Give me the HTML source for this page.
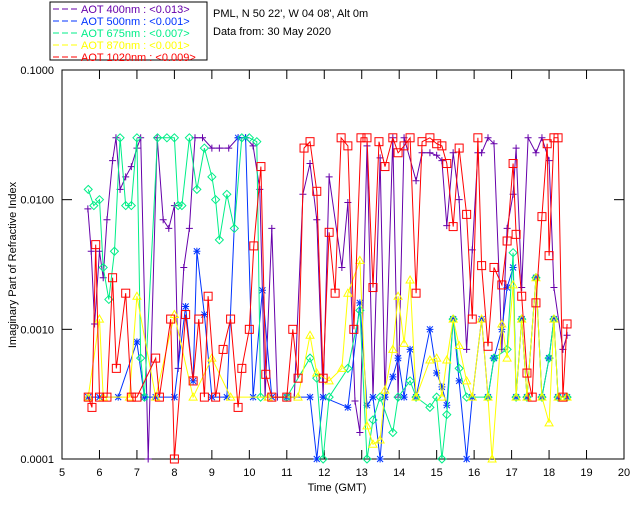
<!DOCTYPE html>
<html><head><meta charset="utf-8"><style>
body{margin:0;background:#fff;width:640px;height:512px;overflow:hidden}
svg text{font-family:"Liberation Sans",sans-serif;font-size:11px}
</style></head><body>
<svg id="c" width="640" height="512" xmlns="http://www.w3.org/2000/svg">
<rect x="50" y="2" width="157" height="58" fill="none" stroke="#000"/>
<g id="legend"></g>
<text x="213" y="17">PML, N 50 22', W 04 08', Alt 0m</text>
<text x="213" y="35">Data from: 30 May 2020</text>
<g id="axes"></g>
<g id="series"></g>
<text x="337" y="491" text-anchor="middle">Time (GMT)</text>
<text transform="translate(16,265) rotate(-90)" text-anchor="middle">Imaginary Part of Refractive Index</text>
</svg>
<script>
const xTicks=[5,6,7,8,9,10,11,12,13,14,15,16,17,18,19,20];
const yTicks=[0.0001,0.001,0.01,0.1];
const yTickLabels=["0.0001","0.0010","0.0100","0.1000"];
const legendLabels=["AOT  400nm : <0.013>","AOT  500nm : <0.001>","AOT  675nm : <0.007>","AOT  870nm : <0.001>","AOT 1020nm : <0.009>"];
const colors=["#6600aa","#0033ff","#00ee88","#ffff00","#ff0000"];
const markers=["plus","star","diamond","triangle","square"];
const t400=[5.69,5.78,5.87,6.0,6.1,6.2,6.35,6.44,6.55,6.7,6.85,7.0,7.1,7.3,7.54,7.7,7.85,8.0,8.1,8.25,8.4,8.55,8.75,9.0,9.2,9.45,9.7,9.9,10.1,10.28,10.42,10.6,10.75,11.2,11.43,11.62,11.8,11.97,12.13,12.47,12.63,12.82,12.95,13.14,13.3,13.49,13.62,13.83,13.97,14.13,14.45,14.61,14.82,15.0,15.14,15.27,15.44,15.6,15.8,15.95,16.1,16.2,16.37,16.53,16.74,16.88,17.04,17.12,17.27,17.44,17.65,17.81,18.0,18.13,18.37,18.48];
const v400=[0.0085,0.004,0.0011,0.004,0.0025,0.007,0.02,0.03,0.012,0.015,0.018,0.025,0.03,0.0001,0.03,0.007,0.006,0.009,0.0005,0.003,0.006,0.03,0.03,0.025,0.025,0.025,0.03,0.03,0.026,0.012,0.0003,0.006,0.0003,0.0003,0.011,0.019,0.007,0.0003,0.015,0.003,0.0095,0.00028,0.00016,0.026,0.0003,0.021,0.0003,0.03,0.0003,0.03,0.014,0.023,0.023,0.022,0.02,0.0063,0.023,0.01,0.0007,0.0041,0.023,0.023,0.03,0.027,0.0007,0.006,0.011,0.025,0.0021,0.03,0.023,0.03,0.02,0.0021,0.0007,0.0009];
const t500=[5.7,6.0,6.5,7.0,7.2,7.5,8.0,8.3,8.5,8.6,8.8,9.0,9.4,9.7,9.9,10.1,10.35,10.6,11.0,11.62,11.8,11.97,12.63,12.95,13.14,13.3,13.49,13.62,13.83,13.97,14.13,14.29,14.45,14.82,15.0,15.14,15.27,15.44,15.6,15.8,15.95,16.2,16.37,16.53,16.74,16.88,17.04,17.12,17.27,17.41,17.65,17.81,18.0,18.13,18.24,18.48];
const v500=[0.0003,0.0003,0.0003,0.0008,0.0003,0.0003,0.0003,0.0015,0.0004,0.004,0.0013,0.0003,0.0003,0.03,0.03,0.0003,0.002,0.0003,0.0003,0.0003,0.0001,0.0003,0.00025,0.0016,0.00026,0.0003,0.0001,0.0003,0.00043,0.0006,0.0003,0.0007,0.0003,0.001,0.00046,0.00036,0.00026,0.0012,0.0004,0.0001,0.0003,0.0012,0.0003,0.0006,0.001,0.0021,0.003,0.0003,0.0012,0.0003,0.0025,0.0003,0.0006,0.0012,0.0003,0.0003];
const t675=[5.7,5.85,6.0,6.1,6.25,6.4,6.55,6.7,6.85,7.0,7.1,7.2,7.55,7.8,8.0,8.1,8.2,8.4,8.6,8.8,9.0,9.1,9.2,9.4,9.6,9.8,10.0,10.2,10.3,11.0,11.62,11.8,11.97,12.13,12.63,12.95,13.14,13.3,13.49,13.83,13.97,14.29,14.45,14.82,15.0,15.14,15.27,15.44,15.6,15.8,16.37,16.53,16.88,17.04,17.12,17.27,17.41,17.65,17.81,18.0,18.13,18.24,18.48];
const v675=[0.012,0.009,0.01,0.003,0.0017,0.004,0.03,0.009,0.009,0.03,0.0006,0.0003,0.03,0.03,0.03,0.009,0.009,0.03,0.012,0.025,0.015,0.01,0.0049,0.011,0.006,0.03,0.03,0.028,0.0003,0.0003,0.0006,0.00042,0.0001,0.0003,0.0005,0.0014,0.0001,0.0002,0.0003,0.00016,0.0003,0.0004,0.0003,0.00025,0.0003,0.0001,0.00022,0.0012,0.0005,0.0003,0.0003,0.0006,0.0007,0.0039,0.0003,0.0012,0.0003,0.0025,0.0003,0.0006,0.0012,0.0003,0.0003];
const t870=[5.7,6.0,6.1,6.8,7.0,7.5,8.0,8.5,9.0,9.5,10.5,11.3,11.62,11.8,12.13,12.47,12.63,12.95,13.14,13.3,13.49,13.62,13.83,13.97,14.13,14.29,14.45,14.82,15.0,15.14,15.27,15.44,15.6,15.8,15.95,16.2,16.37,16.48,16.74,16.88,17.04,17.12,17.27,17.41,17.65,17.81,18.0,18.13,18.24,18.48];
const v870=[0.0003,0.0012,0.0003,0.0003,0.0018,0.0003,0.0013,0.0003,0.0006,0.0003,0.0003,0.0003,0.0009,0.00046,0.0004,0.0005,0.0019,0.0034,0.00018,0.00013,0.00014,0.00034,0.0007,0.0018,0.00078,0.0024,0.0003,0.00058,0.0006,0.0003,0.00058,0.0012,0.00075,0.0004,0.0003,0.0012,0.0003,0.0001,0.0011,0.0006,0.0022,0.0003,0.0012,0.0003,0.0025,0.0003,0.00019,0.0012,0.0003,0.0003];
const t1020=[5.7,5.8,5.9,6.0,6.2,6.35,6.45,6.7,6.85,7.0,7.5,7.6,7.9,8.0,8.3,8.5,8.65,8.8,8.9,9.1,9.3,9.5,9.7,9.8,10.0,10.12,10.31,10.44,10.6,11.0,11.16,11.3,11.46,11.62,11.8,11.97,12.13,12.29,12.45,12.63,12.79,12.98,13.14,13.3,13.46,13.62,13.83,13.97,14.13,14.29,14.45,14.61,14.82,15.0,15.14,15.27,15.44,15.6,15.8,15.95,16.1,16.2,16.37,16.53,16.74,16.88,17.04,17.12,17.27,17.41,17.55,17.65,17.81,17.95,18.0,18.13,18.24,18.37,18.48];
const v1020=[0.0003,0.00025,0.0045,0.0003,0.0003,0.0025,0.0005,0.0019,0.0003,0.0003,0.0006,0.0003,0.0012,0.0001,0.0013,0.0004,0.0012,0.0003,0.0018,0.0003,0.0007,0.0012,0.00025,0.0005,0.001,0.0044,0.018,0.00045,0.0003,0.0003,0.001,0.00042,0.025,0.028,0.0116,0.00042,0.0056,0.0019,0.03,0.026,0.001,0.03,0.03,0.0021,0.028,0.018,0.03,0.023,0.026,0.03,0.0019,0.028,0.03,0.027,0.026,0.019,0.0062,0.025,0.0077,0.0012,0.03,0.0031,0.00074,0.003,0.0022,0.0048,0.019,0.0054,0.0018,0.00046,0.0003,0.0016,0.0074,0.027,0.0037,0.03,0.03,0.0003,0.0011];
const seriesT=[t400,t500,t675,t870,t1020];
const seriesV=[v400,v500,v675,v870,v1020];
const names=["aot-400nm","aot-500nm","aot-675nm","aot-870nm","aot-1020nm"];
const X0=62,X1=624,Y0=459,Y1=70;
const xs=t=>X0+(t-5)/15*(X1-X0);
const ys=v=>Y0-(Math.log10(v)+4)/3*(Y0-Y1);
const NS="http://www.w3.org/2000/svg";
function mk(tag,attrs,parent){const e=document.createElementNS(NS,tag);for(const k in attrs)e.setAttribute(k,attrs[k]);parent.appendChild(e);return e;}
const ax=document.getElementById('axes');
const frame=mk('rect',{x:X0,y:Y1,width:X1-X0,height:Y0-Y1,fill:'none',stroke:'#000'},ax);


xTicks.forEach(t=>{const x=xs(t);
 mk('line',{x1:x,x2:x,y1:Y0,y2:Y0-9,stroke:'#000'},ax);
 mk('line',{x1:x,x2:x,y1:Y1,y2:Y1+9,stroke:'#000'},ax);
 const tx=mk('text',{x:x,y:Y0+17,'text-anchor':'middle'},ax);tx.textContent=t;
 
 });
yTicks.forEach((v,i)=>{const y=ys(v);
 mk('line',{x1:X0,x2:X0+10,y1:y,y2:y,stroke:'#000'},ax);
 mk('line',{x1:X1,x2:X1-10,y1:y,y2:y,stroke:'#000'},ax);
 const tx=mk('text',{x:X0-8,y:y+4,'text-anchor':'end'},ax);tx.textContent=yTickLabels[i];
 
 });
const lg=document.getElementById('legend');
legendLabels.forEach((l,i)=>{const y=13+i*12;
 mk('line',{x1:53,x2:79,y1:y-4,y2:y-4,stroke:colors[i],'stroke-dasharray':'6,3'},lg);
 const tx=mk('text',{x:81,y:y,fill:colors[i],'xml:space':'preserve'},lg);tx.textContent=l;
 
 });
function marker(type,x,y,c,g){
 const s=3.5;
 if(type==='plus'){mk('path',{d:`M${x-s} ${y}H${x+s}M${x} ${y-s}V${y+s}`,stroke:c,fill:'none'},g);}
 else if(type==='star'){mk('path',{d:`M${x-s} ${y}H${x+s}M${x} ${y-s}V${y+s}M${x-3} ${y-3}L${x+3} ${y+3}M${x-3} ${y+3}L${x+3} ${y-3}`,stroke:c,fill:'none'},g);}
 else if(type==='diamond'){mk('path',{d:`M${x} ${y-4}L${x+4} ${y}L${x} ${y+4}L${x-4} ${y}Z`,stroke:c,fill:'none'},g);}
 else if(type==='triangle'){mk('path',{d:`M${x} ${y-4}L${x+4} ${y+3}L${x-4} ${y+3}Z`,stroke:c,fill:'none'},g);}
 else {mk('rect',{x:x-4,y:y-4,width:8,height:8,stroke:c,fill:'none'},g);}
}
const sg=document.getElementById('series');
seriesT.forEach((T,i)=>{const g=mk('g',{},sg);
 
 
 const pts=T.map((t,j)=>xs(t).toFixed(1)+','+ys(seriesV[i][j]).toFixed(1)).join(' ');
 const pl=mk('polyline',{points:pts,fill:'none',stroke:colors[i],'stroke-width':1},g);
 
 
 T.forEach((t,j)=>marker(markers[i],xs(t),ys(seriesV[i][j]),colors[i],g));
});
</script>
</body></html>
